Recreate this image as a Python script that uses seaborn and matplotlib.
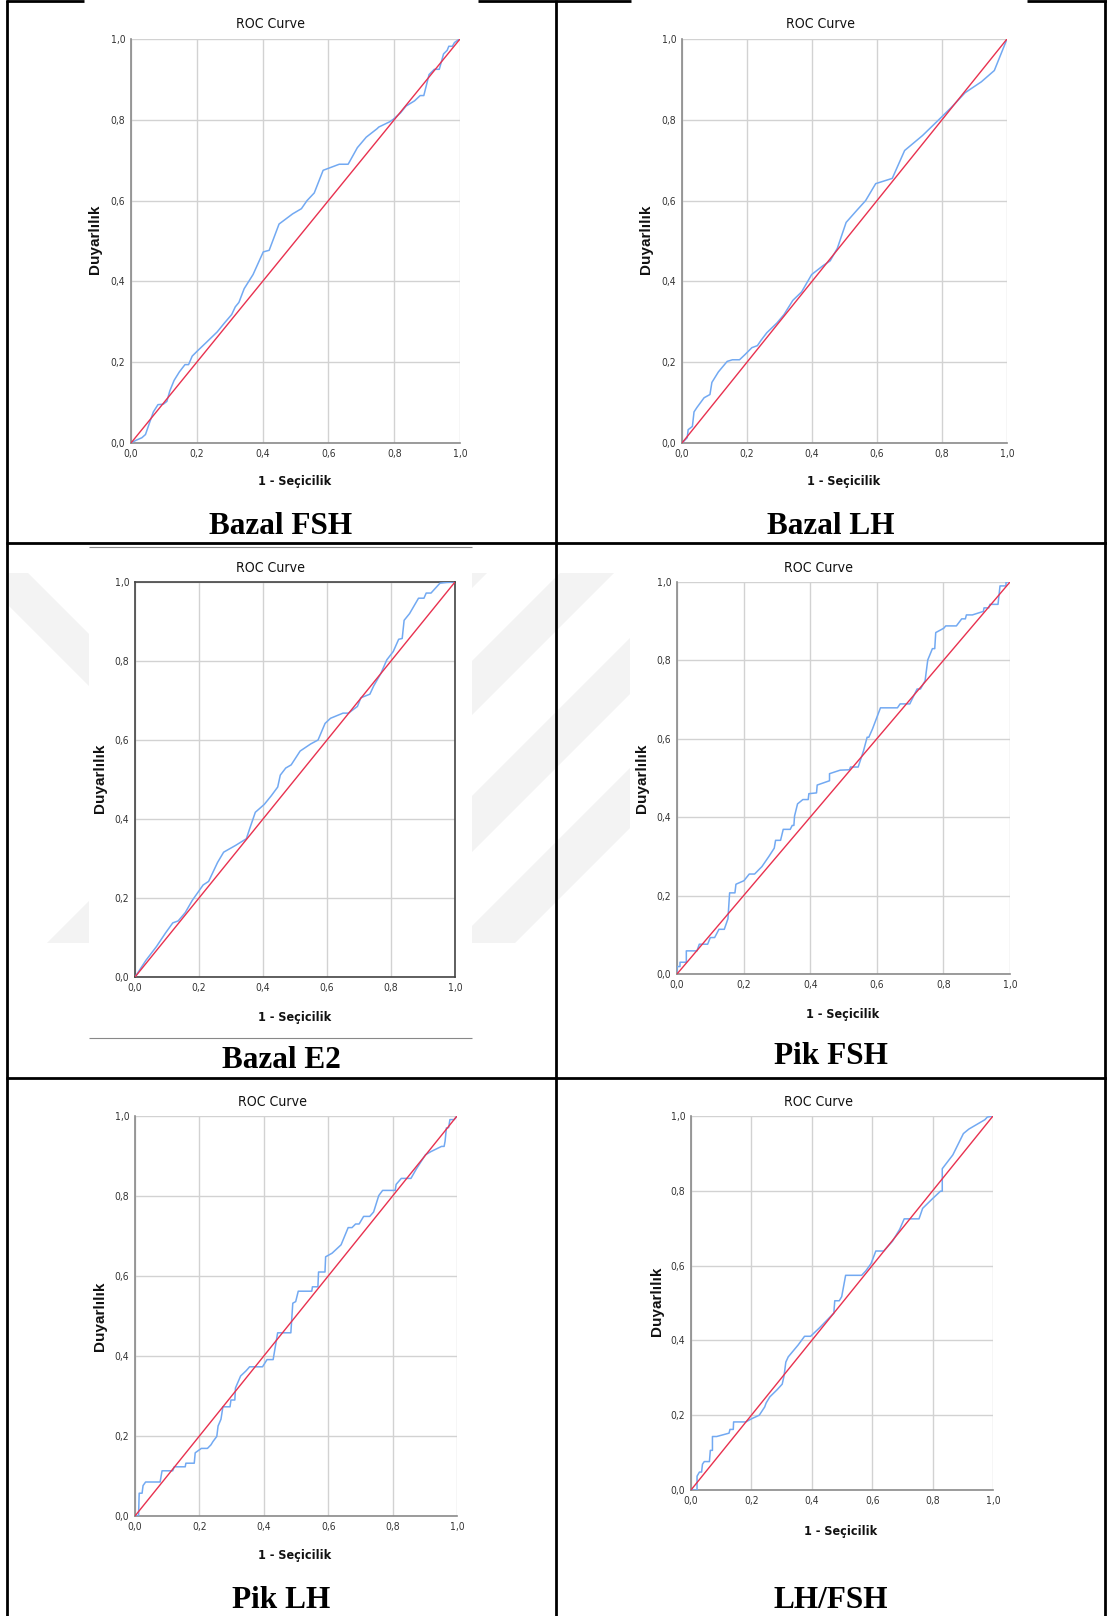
import matplotlib
matplotlib.use("Agg")
import matplotlib.pyplot as plt
from matplotlib.lines import Line2D
from matplotlib.patches import Polygon, Rectangle
from matplotlib import font_manager as fm
import seaborn as sns
import pandas as pd

# ---------------- data ----------------
titles = ["Bazal FSH", "Bazal LH", "Bazal E2", "Pik FSH", "Pik LH", "LH/FSH"]
tick_values = [0.0, 0.2, 0.4, 0.6, 0.8, 1.0]
tick_labels = ["0,0", "0,2", "0,4", "0,6", "0,8", "1,0"]
ref_x = [0.0, 1.0]
ref_y = [0.0, 1.0]

fpr_bazal_fsh = [0, 0.016, 0.033, 0.044, 0.055, 0.068, 0.082, 0.098, 0.109, 0.118, 0.131, 0.147, 0.164, 0.175,
                 0.186, 0.202, 0.229, 0.262, 0.284, 0.306, 0.317, 0.328, 0.344, 0.371, 0.402, 0.420, 0.450,
                 0.491, 0.518, 0.535, 0.557, 0.584, 0.633, 0.660, 0.688, 0.715, 0.748, 0.753, 0.786, 0.797,
                 0.819, 0.836, 0.862, 0.879, 0.890, 0.906, 0.922, 0.937, 0.950, 0.961, 0.966, 0.977, 0.983,
                 0.993, 1.0]
tpr_bazal_fsh = [0, 0.007, 0.013, 0.021, 0.047, 0.077, 0.095, 0.096, 0.103, 0.129, 0.155, 0.176, 0.194, 0.194,
                 0.215, 0.228, 0.249, 0.275, 0.297, 0.318, 0.337, 0.348, 0.382, 0.417, 0.473, 0.477, 0.542,
                 0.567, 0.580, 0.600, 0.619, 0.675, 0.690, 0.690, 0.731, 0.757, 0.778, 0.782, 0.795, 0.801,
                 0.817, 0.834, 0.847, 0.860, 0.860, 0.912, 0.925, 0.925, 0.963, 0.972, 0.982, 0.982, 0.991,
                 0.997, 1.0]

fpr_bazal_lh = [0, 0.016, 0.019, 0.032, 0.037, 0.046, 0.068, 0.086, 0.092, 0.112, 0.139, 0.155, 0.177, 0.194,
                0.215, 0.232, 0.243, 0.261, 0.292, 0.314, 0.341, 0.368, 0.399, 0.434, 0.456, 0.478, 0.505,
                0.538, 0.565, 0.596, 0.647, 0.685, 0.740, 0.795, 0.828, 0.871, 0.921, 0.961, 1.0]
tpr_bazal_lh = [0, 0.013, 0.033, 0.041, 0.077, 0.088, 0.112, 0.120, 0.150, 0.176, 0.202, 0.206, 0.206, 0.219,
                0.236, 0.241, 0.254, 0.273, 0.297, 0.318, 0.353, 0.374, 0.417, 0.439, 0.451, 0.482, 0.546,
                0.576, 0.600, 0.642, 0.655, 0.724, 0.761, 0.804, 0.830, 0.867, 0.894, 0.922, 1.0]

fpr_bazal_e2 = [0, 0.034, 0.067, 0.095, 0.118, 0.135, 0.157, 0.179, 0.213, 0.230, 0.258, 0.277, 0.314, 0.348,
                0.359, 0.376, 0.404, 0.426, 0.446, 0.454, 0.471, 0.488, 0.516, 0.549, 0.572, 0.594, 0.611,
                0.650, 0.667, 0.695, 0.706, 0.734, 0.746, 0.768, 0.787, 0.807, 0.824, 0.835, 0.841, 0.858,
                0.886, 0.903, 0.910, 0.925, 0.953, 0.975, 1.0]
tpr_bazal_e2 = [0, 0.042, 0.077, 0.111, 0.137, 0.142, 0.163, 0.194, 0.233, 0.242, 0.290, 0.316, 0.333, 0.350,
                0.377, 0.417, 0.437, 0.459, 0.481, 0.511, 0.529, 0.537, 0.572, 0.590, 0.600, 0.642, 0.655,
                0.668, 0.668, 0.685, 0.707, 0.716, 0.737, 0.768, 0.803, 0.824, 0.855, 0.857, 0.903, 0.920,
                0.959, 0.959, 0.972, 0.972, 0.997, 0.999, 1.0]

fpr_pik_fsh = [0, 0, 0.009, 0.009, 0.028, 0.028, 0.060, 0.067, 0.092, 0.100, 0.113, 0.126, 0.142, 0.153, 0.158,
               0.174, 0.177, 0.201, 0.217, 0.233, 0.255, 0.276, 0.292, 0.296, 0.311, 0.319, 0.340, 0.346,
               0.351, 0.353, 0.362, 0.378, 0.394, 0.396, 0.419, 0.421, 0.458, 0.458, 0.490, 0.518, 0.521,
               0.544, 0.560, 0.571, 0.576, 0.587, 0.603, 0.611, 0.662, 0.670, 0.699, 0.721, 0.731, 0.745,
               0.753, 0.767, 0.774, 0.777, 0.801, 0.807, 0.839, 0.855, 0.866, 0.869, 0.887, 0.920, 0.922,
               0.936, 0.940, 0.964, 0.970, 0.988, 0.988, 1.0]
tpr_pik_fsh = [0, 0.019, 0.019, 0.030, 0.030, 0.059, 0.059, 0.076, 0.076, 0.093, 0.093, 0.114, 0.114, 0.141,
               0.207, 0.207, 0.229, 0.238, 0.255, 0.255, 0.274, 0.300, 0.321, 0.341, 0.341, 0.369, 0.369,
               0.379, 0.379, 0.403, 0.434, 0.445, 0.445, 0.460, 0.462, 0.482, 0.493, 0.511, 0.520, 0.521,
               0.528, 0.528, 0.569, 0.604, 0.604, 0.625, 0.661, 0.679, 0.679, 0.689, 0.689, 0.727, 0.727,
               0.748, 0.801, 0.830, 0.830, 0.871, 0.882, 0.888, 0.888, 0.906, 0.906, 0.916, 0.916, 0.925,
               0.934, 0.934, 0.943, 0.943, 0.990, 0.990, 1.0, 1.0]

fpr_pik_lh = [0, 0.011, 0.013, 0.022, 0.025, 0.033, 0.078, 0.084, 0.117, 0.122, 0.156, 0.158, 0.184, 0.187,
              0.206, 0.225, 0.236, 0.242, 0.254, 0.258, 0.267, 0.273, 0.295, 0.298, 0.310, 0.312, 0.328,
              0.345, 0.356, 0.396, 0.410, 0.429, 0.443, 0.484, 0.490, 0.499, 0.507, 0.549, 0.551, 0.568,
              0.570, 0.590, 0.592, 0.612, 0.640, 0.662, 0.674, 0.685, 0.696, 0.710, 0.729, 0.741, 0.757,
              0.769, 0.808, 0.811, 0.827, 0.857, 0.874, 0.902, 0.919, 0.952, 0.960, 0.963, 0.967, 0.974,
              0.978, 0.991, 1.0]
tpr_pik_lh = [0, 0, 0.057, 0.057, 0.076, 0.085, 0.085, 0.113, 0.113, 0.123, 0.123, 0.132, 0.132, 0.158,
              0.169, 0.169, 0.178, 0.186, 0.199, 0.225, 0.242, 0.273, 0.273, 0.290, 0.290, 0.320, 0.350,
              0.363, 0.373, 0.373, 0.391, 0.391, 0.458, 0.458, 0.532, 0.536, 0.562, 0.562, 0.573, 0.573,
              0.610, 0.610, 0.648, 0.657, 0.678, 0.721, 0.721, 0.730, 0.730, 0.749, 0.749, 0.760, 0.801,
              0.814, 0.814, 0.829, 0.844, 0.844, 0.868, 0.903, 0.911, 0.924, 0.924, 0.937, 0.970, 0.971,
              0.991, 0.991, 1.0]

fpr_lh_fsh = [0, 0.020, 0.020, 0.028, 0.035, 0.038, 0.044, 0.061, 0.064, 0.071, 0.071, 0.085, 0.126, 0.129,
              0.140, 0.141, 0.181, 0.202, 0.226, 0.244, 0.249, 0.261, 0.285, 0.302, 0.308, 0.314, 0.322,
              0.355, 0.376, 0.396, 0.426, 0.473, 0.476, 0.491, 0.499, 0.512, 0.565, 0.579, 0.596, 0.612,
              0.638, 0.667, 0.691, 0.706, 0.755, 0.767, 0.796, 0.826, 0.832, 0.832, 0.867, 0.902, 0.920,
              0.973, 0.981, 1.0]
tpr_lh_fsh = [0, 0, 0.037, 0.048, 0.048, 0.069, 0.076, 0.076, 0.106, 0.106, 0.143, 0.143, 0.152, 0.162,
              0.162, 0.182, 0.182, 0.191, 0.200, 0.222, 0.233, 0.249, 0.268, 0.283, 0.305, 0.342, 0.356,
              0.388, 0.411, 0.411, 0.434, 0.473, 0.506, 0.506, 0.517, 0.574, 0.574, 0.586, 0.605, 0.639,
              0.639, 0.665, 0.697, 0.725, 0.725, 0.753, 0.776, 0.799, 0.799, 0.859, 0.896, 0.953, 0.965,
              0.990, 0.997, 1.0]

fpr_list = [fpr_bazal_fsh, fpr_bazal_lh, fpr_bazal_e2, fpr_pik_fsh, fpr_pik_lh, fpr_lh_fsh]
tpr_list = [tpr_bazal_fsh, tpr_bazal_lh, tpr_bazal_e2, tpr_pik_fsh, tpr_pik_lh, tpr_lh_fsh]

# ---------------- fonts ----------------
def font_file(family, weight='normal', stretch='normal'):
    try:
        return fm.findfont(fm.FontProperties(family=family, weight=weight, stretch=stretch),
                           fallback_to_default=False)
    except Exception:
        return ''

# narrow sans for the SPSS-style chart texts (the chart images are squeezed horizontally)
NARROW = {'family': ['Liberation Sans'], 'stretch': 'normal', 'tick': 7.0, 'title': 10.0, 'xlab': 9.2}
if 'Narrow' in font_file('Liberation Sans Narrow'):
    NARROW = {'family': ['Liberation Sans Narrow', 'Liberation Sans'], 'stretch': 'normal',
              'tick': 8.0, 'title': 11.0, 'xlab': 10.8}
elif 'Condensed' in font_file('DejaVu Sans', 'bold', 'condensed'):
    NARROW = {'family': ['DejaVu Sans'], 'stretch': 'condensed', 'tick': 7.4, 'title': 10.1, 'xlab': 9.0}

# ---------------- layout (pixels) ----------------
W, H = 1107, 1616
sns.set_theme(style="white")
plt.rcParams['font.family'] = ['Liberation Sans', 'DejaVu Sans']

fig = plt.figure(figsize=(W / 100, H / 100), dpi=100)
fig.patch.set_facecolor('white')

def fx(px):
    return px / W

def fy(py):
    return 1 - py / H

# faint watermark stripes (background of the thesis page)
WM = '#f3f3f3'
def band(kind, a, b, clip):
    xa, xb = 0, W
    if kind == 'up':      # lines x + y = const
        pts = [(xa, a - xa), (xb, a - xb), (xb, b - xb), (xa, b - xa)]
    else:                 # lines y - x = const
        pts = [(xa, a + xa), (xb, a + xb), (xb, b + xb), (xa, b + xa)]
    poly = Polygon([(fx(x), fy(y)) for x, y in pts], closed=True, transform=fig.transFigure,
                   facecolor=WM, edgecolor='none', zorder=-5)
    x0, y0, x1, y1 = clip
    rect = Rectangle((fx(x0), fy(y1)), (x1 - x0) / W, (y1 - y0) / H, transform=fig.transFigure)
    fig.add_artist(poly)
    poly.set_clip_path(rect)

clipAB = (472, 573, 630, 943)
clipC = (8, 573, 89, 943)
for a, b in [(1045, 1060), (1133, 1187), (1268, 1324), (1398, 1458)]:
    band('up', a, b, clipAB)
band('down', 545, 597, clipC)
band('up', 990, 1200, clipC)

# axes boxes: left, right, top, bottom
boxes = [(131, 460, 39, 443), (682, 1007, 39, 443),
         (135, 455, 582, 977), (677, 1010, 582, 974),
         (135, 457, 1116, 1516), (691, 993, 1116, 1490)]
title_pos = [(271, 24), (820, 24), (271, 568), (819, 568), (272, 1102), (818, 1102)]
xlab_pos = [(295, 482), (844, 482), (295, 1018), (843, 1015), (295, 1556), (841, 1531)]
ylab_pos = [(95, 239), (646, 239), (100, 778), (642, 778), (100, 1316), (657, 1301)]
cap_pos = [(281, 526), (831, 526), (281, 1060), (831, 1056), (281, 1600), (831, 1600)]

BLUE = '#72a9f2'
RED = '#e8314f'
GRID = '#d2d2d2'

for i in range(6):
    l, r, t, b = boxes[i]
    ax = fig.add_axes([fx(l), fy(b), (r - l) / W, (b - t) / H])
    ax.set_facecolor('white')
    df = pd.DataFrame({'x': fpr_list[i], 'y': tpr_list[i]})
    sns.lineplot(data=df, x='x', y='y', sort=False, estimator=None, color=BLUE, lw=1.1, ax=ax, zorder=3)
    sns.lineplot(x=ref_x, y=ref_y, sort=False, estimator=None, color=RED, lw=1.0, ax=ax, zorder=4)
    ax.set_xlim(0, 1)
    ax.set_ylim(0, 1)
    ax.set_xticks(tick_values)
    ax.set_yticks(tick_values)
    ax.set_xticklabels(tick_labels)
    ax.set_yticklabels(tick_labels)
    ax.tick_params(length=0, colors='#333333', pad=4)
    for lab in ax.get_xticklabels() + ax.get_yticklabels():
        lab.set_family(NARROW['family'])
        lab.set_stretch(NARROW['stretch'])
        lab.set_fontsize(NARROW['tick'])
    ax.grid(True, color=GRID, lw=1.0)
    ax.set_axisbelow(True)
    ax.set_xlabel('')
    ax.set_ylabel('')
    for s in ['top', 'right']:
        ax.spines[s].set_visible(i == 2)
    for s in ax.spines.values():
        s.set_color('#444444' if i == 2 else '#8a8a8a')
        s.set_linewidth(1.2)
    fig.text(fx(title_pos[i][0]), fy(title_pos[i][1]), 'ROC Curve', ha='center', va='center',
             fontsize=NARROW['title'], family=NARROW['family'], stretch=NARROW['stretch'],
             color='#111111')
    fig.text(fx(xlab_pos[i][0]), fy(xlab_pos[i][1]), '1 - Seçicilik', ha='center', va='center',
             fontsize=NARROW['xlab'], fontweight='bold', family=NARROW['family'],
             stretch=NARROW['stretch'], color='#111111')
    fig.text(fx(ylab_pos[i][0]), fy(ylab_pos[i][1]), 'Duyarlılık', ha='center', va='center',
             rotation=90, fontsize=11, fontweight='bold', color='#111111')
    fig.text(fx(cap_pos[i][0]), fy(cap_pos[i][1]), titles[i], ha='center', va='center',
             fontsize=22.5, fontweight='bold', family=['Liberation Serif', 'DejaVu Serif'], color='black')

# ---------------- table lines ----------------
def hline(y, x0, x1, lw=2.0, color='black'):
    fig.add_artist(Line2D([fx(x0), fx(x1)], [fy(y), fy(y)], transform=fig.transFigure,
                          color=color, lw=lw, solid_capstyle='butt'))

def vline(x, y0, y1, lw=2.0, color='black'):
    fig.add_artist(Line2D([fx(x), fx(x)], [fy(y0), fy(y1)], transform=fig.transFigure,
                          color=color, lw=lw, solid_capstyle='butt'))

hline(1, 6, 84)
hline(1, 478, 631)
hline(1, 1027, 1107)
hline(543, 6, 1107)
hline(1078, 6, 1107)
vline(7, 0, 1616)
vline(556, 0, 1616)
vline(1105, 0, 1616)
hline(547, 89, 472, lw=0.8, color='#888888')
hline(1038, 89, 472, lw=0.8, color='#888888')

fig.savefig('out.png', dpi=100, facecolor='white')
